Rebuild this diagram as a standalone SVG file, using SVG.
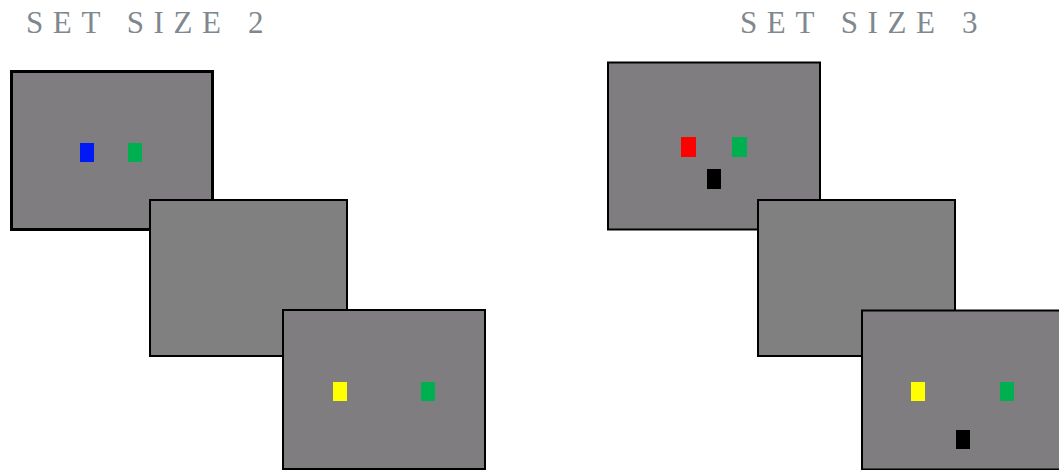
<svg xmlns="http://www.w3.org/2000/svg" width="1059" height="470" viewBox="0 0 1059 470">
<style>
.title{font-family:"Liberation Serif","DejaVu Serif",serif;font-size:31px;fill:#7f888e;letter-spacing:9.6px}
.scr{fill:#7f7d80;stroke:#000;stroke-width:2}
.mid{fill:#808080;stroke:#000;stroke-width:2}
</style>
<rect width="1059" height="470" fill="#fff"/>
<text class="title" x="26" y="33">SET SIZE 2</text>
<text class="title" x="740" y="33">SET SIZE 3</text>
<g id="s2-encoding">
<rect class="scr" x="11.5" y="71.5" width="201" height="158" style="stroke-width:3"/>
<rect x="80" y="143" width="14" height="19" fill="#0019f5"/>
<rect x="128" y="143" width="14" height="19" fill="#00b050"/>
</g>
<g id="s2-delay">
<rect class="mid" x="150" y="200" width="197" height="156"/>
</g>
<g id="s2-test">
<rect class="scr" x="283" y="310" width="202" height="159"/>
<rect x="333" y="382" width="14" height="19" fill="#ffff00"/>
<rect x="421" y="382" width="14" height="19" fill="#00b050"/>
</g>
<g id="s3-encoding">
<rect class="scr" x="608" y="62.5" width="212" height="167"/>
<rect x="681" y="137" width="15" height="20" fill="#ff0000"/>
<rect x="732" y="137" width="15" height="20" fill="#00b050"/>
<rect x="707" y="169" width="14" height="20" fill="#000"/>
</g>
<g id="s3-delay">
<rect class="mid" x="758" y="200" width="197" height="156"/>
</g>
<g id="s3-test">
<rect class="scr" x="862" y="310.5" width="210" height="159"/>
<rect x="911" y="382" width="14" height="19" fill="#ffff00"/>
<rect x="1000" y="382" width="14" height="19" fill="#00b050"/>
<rect x="956" y="430" width="14" height="19" fill="#000"/>
</g>
<g id="connectors"/>
</svg>
